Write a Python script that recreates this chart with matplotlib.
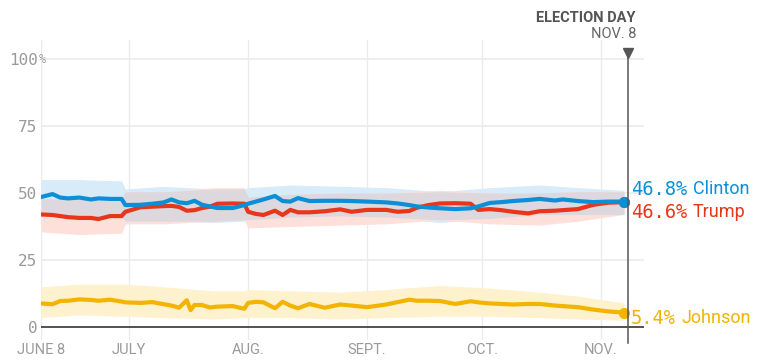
import matplotlib
matplotlib.use("Agg")
import matplotlib.pyplot as plt
import numpy as np
import pandas as pd

start = pd.Timestamp("2016-06-08")
election = pd.Timestamp("2016-11-08")

# days since June 8
days = [0, 3, 5, 7, 10, 13, 15, 18, 21, 22, 26, 29, 32, 34, 36, 38, 39, 40, 42, 44,
        46, 50, 53, 54, 56, 58, 61, 63, 65, 67, 70, 74, 78, 81, 85, 90, 93, 96, 98, 101,
        104, 108, 112, 114, 117, 120, 123, 127, 130, 134, 136, 140, 144, 148, 152]

clinton = [48.5, 49.6, 48.3, 48.0, 48.3, 47.6, 48.0, 47.8, 47.8, 45.5, 45.6, 46.0, 46.5, 47.6, 46.5, 46.2, 46.6, 47.1, 45.6, 45.0,
           44.4, 44.4, 45.5, 46.0, 46.8, 47.6, 48.9, 47.0, 46.8, 48.1, 47.0, 47.1, 47.1, 47.0, 46.8, 46.5, 46.1, 45.5, 45.0, 44.6,
           44.3, 44.0, 44.3, 45.0, 46.3, 46.6, 47.0, 47.4, 47.8, 47.2, 47.6, 47.0, 46.6, 46.8, 46.8]

trump = [42.0, 41.8, 41.4, 41.0, 40.7, 40.7, 40.3, 41.4, 41.4, 43.0, 44.7, 44.9, 45.1, 45.2, 44.8, 43.4, 43.5, 43.6, 44.4, 44.9,
         46.0, 46.1, 46.0, 43.0, 42.2, 41.8, 43.4, 41.8, 43.7, 42.8, 42.8, 43.2, 43.9, 43.0, 43.7, 43.7, 43.0, 43.3, 44.5, 45.5,
         46.1, 46.2, 46.0, 43.7, 44.0, 43.6, 43.0, 42.4, 43.2, 43.4, 43.6, 44.0, 45.6, 46.4, 46.6]

johnson = [8.8, 8.5, 9.7, 9.8, 10.3, 10.1, 9.8, 10.2, 9.5, 9.2, 9.0, 9.3, 8.5, 8.0, 7.2, 10.0, 6.3, 8.2, 8.2, 7.3,
           7.6, 7.8, 6.8, 9.0, 9.4, 9.2, 7.0, 9.4, 8.0, 7.0, 8.6, 7.2, 8.4, 8.0, 7.4, 8.4, 9.3, 10.2, 9.8, 9.8,
           9.7, 8.6, 9.6, 9.2, 8.8, 8.6, 8.4, 8.6, 8.6, 8.0, 7.8, 7.4, 6.5, 5.8, 5.4]

# uncertainty bands, own sample days
band_days = [0, 10, 21, 22, 32, 45, 53, 54, 65, 78, 90, 104, 117, 130, 140, 152]
clinton_lo = [41.5, 41.5, 41.0, 39.5, 39.5, 39.0, 39.5, 40.0, 41.0, 41.5, 41.0, 39.0, 40.5, 42.0, 42.0, 42.0]
clinton_hi = [55.0, 55.0, 54.5, 51.5, 52.5, 51.5, 51.5, 52.0, 53.0, 52.5, 52.0, 50.5, 52.0, 53.0, 52.0, 51.0]
trump_lo = [35.5, 34.5, 35.0, 38.5, 38.5, 39.5, 40.0, 37.0, 37.5, 38.0, 38.5, 40.0, 38.5, 38.0, 39.5, 42.0]
trump_hi = [48.0, 47.5, 48.0, 50.5, 50.5, 52.0, 52.0, 48.5, 49.5, 50.0, 50.0, 51.0, 50.0, 50.0, 50.5, 50.5]
johnson_lo = [3.5, 4.5, 4.0, 4.0, 3.5, 3.0, 3.5, 3.5, 3.5, 3.0, 3.5, 4.0, 4.0, 3.5, 3.0, 2.5]
johnson_hi = [15.0, 16.0, 16.0, 16.0, 15.0, 13.5, 13.5, 14.0, 13.5, 13.0, 14.0, 15.5, 14.5, 13.0, 11.5, 9.0]

month_days = [0, 23, 54, 85, 115, 146]
month_labels = ["JUNE 8", "JULY", "AUG.", "SEPT.", "OCT.", "NOV."]
y_ticks = [0, 25, 50, 75, 100]

BLUE, RED, GOLD = "#0b8fd6", "#e8361b", "#f2b400"

x = start + pd.to_timedelta(days, unit="D")
bx = start + pd.to_timedelta(band_days, unit="D")

fig = plt.figure(figsize=(7.75, 3.63), dpi=100)
ax = fig.add_axes([41 / 775, 1 - 340 / 363, 603 / 775, 300 / 363])

ax.fill_between(bx, clinton_lo, clinton_hi, color="#d7ebf8", lw=0)
ax.fill_between(bx, trump_lo, trump_hi, color="#fde0da", lw=0)
ov_lo = np.maximum(clinton_lo, trump_lo)
ov_hi = np.minimum(clinton_hi, trump_hi)
ax.fill_between(bx, ov_lo, ov_hi, where=ov_hi > ov_lo, color="#dcd8de", lw=0)
ax.fill_between(bx, johnson_lo, johnson_hi, color="#fef1cd", lw=0)

for vals, c in [(trump, RED), (clinton, BLUE), (johnson, GOLD)]:
    ax.plot(x, vals, color=c, lw=3.0, solid_joinstyle="round", solid_capstyle="round", zorder=3)
    ax.plot(x[-1], vals[-1], "o", color=c, ms=7, zorder=4)

end = start + pd.Timedelta(days=157.2)
ax.set_xlim(start, end)
ax.set_ylim(-4.85, 107.1)

for s in ax.spines.values():
    s.set_visible(False)
ax.tick_params(length=0)

month_x = start + pd.to_timedelta(month_days, unit="D")
for m in month_x:
    ax.axvline(m, color="#ebebeb", lw=1, zorder=0)
for v in y_ticks[1:]:
    ax.axhline(v, color="#ebebeb", lw=1.2, zorder=0)
ax.axhline(0, color="#333333", lw=1.2, zorder=2)

ax.set_xticks(month_x)
ax.set_xticklabels(month_labels, fontsize=10.5, color="#9a9a9a", family="Roboto")
ax.tick_params(axis="x", pad=2)
ax.set_yticks(y_ticks)
ax.set_yticklabels([str(v) for v in y_ticks], fontsize=11.5, color="#9a9a9a",
                   family="DejaVu Sans Mono")
ax.tick_params(axis="y", pad=2.5)
ax.text(-2.3 / 603, 100, "%", transform=ax.get_yaxis_transform(), fontsize=8.5,
        color="#9a9a9a", family="DejaVu Sans Mono", va="center", ha="left")

# election day marker
ax.plot([election, election], [100.7, -6], color="#555555", lw=1.1, clip_on=False, zorder=5)
ax.plot(election, 102.4, "v", color="#555555", ms=7, clip_on=False, zorder=5)
fig.text(636 / 775, 1 - 18 / 363, "ELECTION DAY", ha="right", va="center",
         fontsize=10.5, fontweight="bold", color="#555555", family="Roboto")
fig.text(636 / 775, 1 - 34.5 / 363, "NOV. 8", ha="right", va="center",
         fontsize=10.5, color="#666666", family="Roboto")

# end labels
labels = [(clinton[-1], "Clinton", BLUE, 9.0), (trump[-1], "Trump", RED, -7.3),
          (johnson[-1], "Johnson", GOLD, -4.0)]
for val, name, c, dy in labels:
    num = f"{val:.1f}%"
    ax.annotate(num, (x[-1], val), xytext=(5, dy), textcoords="offset points",
                ha="left", va="center", fontsize=13.5, color=c, family="DejaVu Sans Mono",
                annotation_clip=False)
    ax.annotate(name, (x[-1], val), xytext=(5 + len(num) * 0.602 * 13.5 + 4, dy),
                textcoords="offset points", ha="left", va="center", fontsize=13,
                color=c, family="Roboto", annotation_clip=False)

fig.savefig("out.png", dpi=100)
